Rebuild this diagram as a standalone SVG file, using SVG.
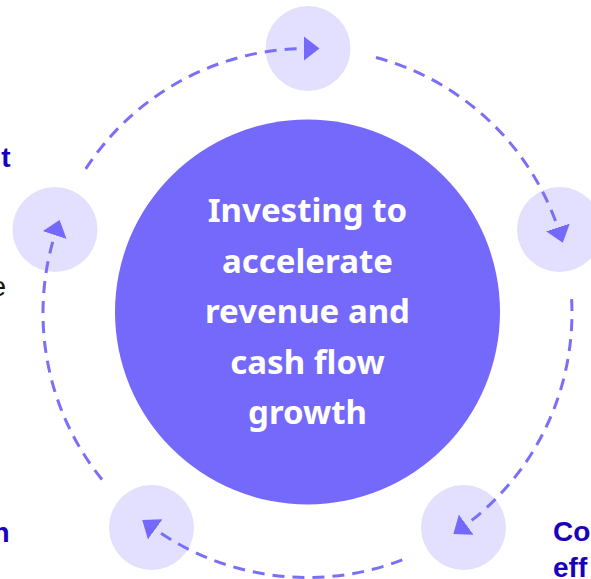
<svg xmlns="http://www.w3.org/2000/svg" width="591" height="579" viewBox="0 0 591 579">
<defs>
<style>
.node{fill:#e2e0fe}
.hub{fill:#7469fb}
.ring{fill:none;stroke:#7a70f6;stroke-width:3;stroke-dasharray:12 8;marker-end:url(#arr)}
.hubtxt{font-family:"Noto Sans","Open Sans",sans-serif;font-weight:700;font-size:33px;fill:#ffffff;text-anchor:middle}
.lbl{font-family:"Liberation Sans",Arial,sans-serif;font-weight:700;font-size:28px;fill:#1a00bd}
.body{font-family:"Liberation Sans",Arial,sans-serif;font-size:28px;fill:#111111}
</style>
<marker id="arr" viewBox="0 0 16 25" markerWidth="16" markerHeight="25" refX="4" refY="12.5" orient="auto" markerUnits="userSpaceOnUse">
<path d="M0,0 L16,12.5 L0,25 Z" fill="#7469fb"/>
</marker>
</defs>
<rect width="591" height="579" fill="#ffffff"/>
<g id="labels">
<text class="lbl" x="10.5" y="167" text-anchor="end">t</text>
<text class="body" x="6" y="296" text-anchor="end">e</text>
<text class="lbl" x="9.5" y="542" text-anchor="end">n</text>
<text class="lbl" x="553" y="541">Co</text>
<text class="lbl" x="553" y="577">eff</text>
</g>
<g id="hub">
<circle class="hub" cx="307.5" cy="312" r="192.5"/>
<text class="hubtxt"><tspan x="307.5" y="222">Investing to</tspan><tspan x="307.5" y="272.5">accelerate</tspan><tspan x="307.5" y="323">revenue and</tspan><tspan x="307.5" y="373.5">cash flow</tspan><tspan x="307.5" y="424">growth</tspan></text>
</g>
<g id="node-top"><circle class="node" cx="308" cy="48.5" r="42.5"/></g>
<g id="node-right"><circle class="node" cx="559.5" cy="229.5" r="42.5"/></g>
<g id="node-bottom-right"><circle class="node" cx="463.5" cy="527.5" r="42.5"/></g>
<g id="node-bottom-left"><circle class="node" cx="151.5" cy="527.5" r="42.5"/></g>
<g id="node-left"><circle class="node" cx="55" cy="229.5" r="42.5"/></g>
<g id="connectors">
<path class="ring" d="M85.7,168.9 A264.5,264.5 0 0 1 307.5,48.5"/>
<path class="ring" d="M376,57.5 A264.5,264.5 0 0 1 559.1,231.3"/>
<path class="ring" d="M571.6,299.2 A264.5,264.5 0 0 1 463,527"/>
<path class="ring" d="M402.3,559.9 A264.5,264.5 0 0 1 152,527"/>
<path class="ring" d="M102,479.5 A264.5,264.5 0 0 1 55.9,231.3"/>
</g>
</svg>
